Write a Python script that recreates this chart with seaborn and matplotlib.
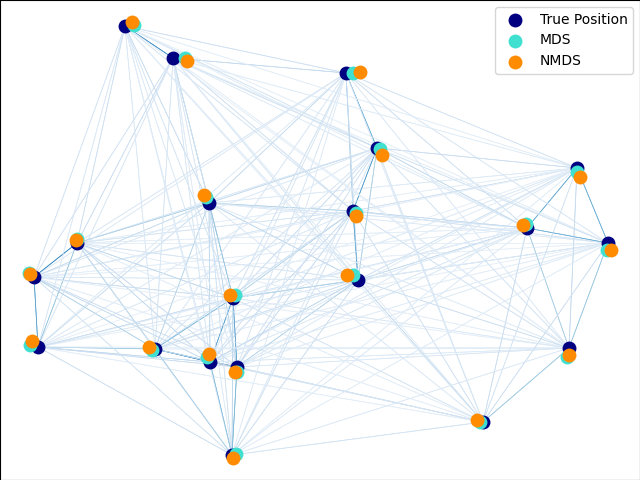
import numpy as np
import pandas as pd
import matplotlib
matplotlib.use("Agg")
import matplotlib.pyplot as plt
from matplotlib.collections import LineCollection
import seaborn as sns

# Positions (x right, y down, in picture units)
true_x = [125, 173, 346, 377, 577, 209, 353, 527, 608, 77, 34, 358, 233, 38, 155, 210, 237, 569, 483, 232]
true_y = [26, 58, 73, 148, 168, 203, 211, 228, 243, 243, 277, 280, 298, 347, 349, 362, 367, 348, 422, 455]
mds_x = [134, 185, 353, 380, 577, 206, 356, 526, 607, 77, 29, 353, 235, 30, 152, 207, 237, 567, 480, 236]
mds_y = [25, 58, 73, 149, 172, 197, 213, 224, 250, 239, 273, 275, 295, 345, 350, 357, 372, 357, 422, 454]
nmds_x = [132, 187, 360, 382, 580, 204, 356, 523, 611, 76, 30, 347, 230, 32, 149, 209, 235, 569, 477, 233]
nmds_y = [22, 61, 72, 155, 177, 195, 216, 225, 250, 240, 274, 275, 295, 341, 347, 354, 372, 355, 420, 458]

X_true = np.column_stack([true_x, true_y]).astype(float)
n = len(true_x)

fig = plt.figure(figsize=(6.4, 4.8), dpi=100)
ax = fig.add_axes([0.0, 0.0, 1.0, 1.0])

s = 100
sns.scatterplot(x=true_x, y=true_y, color="navy", s=s, linewidth=0, label="True Position", ax=ax)
sns.scatterplot(x=mds_x, y=mds_y, color="turquoise", s=s, linewidth=0, label="MDS", ax=ax)
sns.scatterplot(x=nmds_x, y=nmds_y, color="darkorange", s=s, linewidth=0, label="NMDS", ax=ax)
ax.legend(scatterpoints=1, loc="upper right", shadow=False)

# Edges between all true positions, shaded by inverse (noisy) distance
d = np.sqrt(((X_true[:, None, :] - X_true[None, :, :]) ** 2).sum(-1))
offset = 25.0
sim = np.zeros_like(d)
mask = d > 0
sim[mask] = (d[mask].min() + offset) / (d[mask] + offset) * 100
segments = [[X_true[i], X_true[j]] for i in range(n) for j in range(n)]
lc = LineCollection(segments, zorder=0, cmap=plt.cm.Blues, norm=plt.Normalize(0, sim.max()))
lc.set_array(sim.flatten())
lc.set_linewidths(np.full(len(segments), 0.5))
ax.add_collection(lc)

ax.set_xlim(0, 640)
ax.set_ylim(480, 0)
ax.set_xlabel("")
ax.set_ylabel("")
fig.savefig("out.png", dpi=100)
